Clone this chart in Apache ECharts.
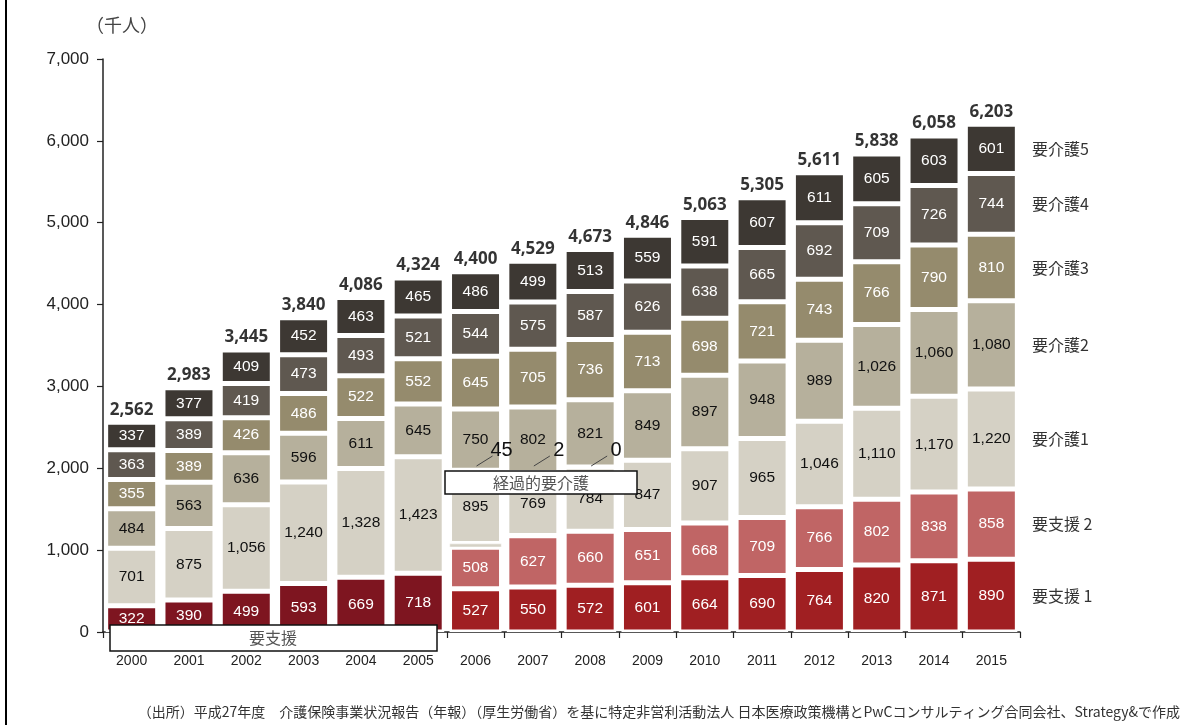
<!DOCTYPE html>
<html>
<head>
<meta charset="utf-8">
<script src="https://cdn.jsdelivr.net/npm/echarts@6/dist/echarts.min.js"></script>
<style>
html,body{margin:0;padding:0;background:#fff;}
#c{width:1191px;height:725px;}
</style>
</head>
<body>
<div id="c"></div>
<script>
const years = ['2000','2001','2002','2003','2004','2005','2006','2007','2008','2009','2010','2011','2012','2013','2014','2015'];
const shien  = [322,390,499,593,669,718,'-','-','-','-','-','-','-','-','-','-'];
const shien1 = ['-','-','-','-','-','-',527,550,572,601,664,690,764,820,871,890];
const shien2 = ['-','-','-','-','-','-',508,627,660,651,668,709,766,802,838,858];
const keika  = ['-','-','-','-','-','-',45,2,0,'-','-','-','-','-','-','-'];
const kaigo1 = [701,875,1056,1240,1328,1423,895,769,784,847,907,965,1046,1110,1170,1220];
const kaigo2 = [484,563,636,596,611,645,750,802,821,849,897,948,989,1026,1060,1080];
const kaigo3 = [355,389,426,486,522,552,645,705,736,713,698,721,743,766,790,810];
const kaigo4 = [363,389,419,473,493,521,544,575,587,626,638,665,692,709,726,744];
const kaigo5 = [337,377,409,452,463,465,486,499,513,559,591,607,611,605,603,601];
const totals = [2562,2983,3445,3840,4086,4324,4400,4529,4673,4846,5063,5305,5611,5838,6058,6203];
const yTicks = [0,1000,2000,3000,4000,5000,6000,7000];

const fmt = v => Number(v).toLocaleString('en-US');
const numFont = '"Liberation Sans", Arial, sans-serif';
const jpFont = '"Noto Sans CJK JP", sans-serif';

function seg(name, data, color, labelColor) {
  return {
    name: name, type: 'bar', stack: 'all', data: data, barWidth: 52,
    itemStyle: { color: color, borderColor: '#fff', borderWidth: 2.5 },
    label: { show: true, position: 'inside', color: labelColor, fontSize: 15.5, fontFamily: numFont,
      formatter: p => fmt(p.value) },
    emphasis: { disabled: true }
  };
}

const chart = echarts.init(document.getElementById('c'), null, { renderer: 'canvas' });
const keikaSeries = {
  name: '経過的要介護', type: 'bar', stack: 'all', data: keika, barWidth: 52,
  itemStyle: { color: '#D5D1C5', borderColor: '#fff', borderWidth: 0.5 },
  label: { show: true, position: 'top', color: '#111', fontSize: 20, fontFamily: numFont,
    formatter: p => fmt(p.value) },
  labelLayout: function (params) {
    const cx = params.rect.x + params.rect.width / 2;
    return { x: cx + 26, y: 450, align: 'center', verticalAlign: 'middle' };
  },
  emphasis: { disabled: true },
  z: 3
};

const option = {
  animation: false,
  backgroundColor: '#fff',
  grid: { left: 103, right: 171, top: 59, bottom: 93, containLabel: false },
  xAxis: {
    type: 'category', data: years,
    axisLine: { lineStyle: { color: '#222', width: 1.5 } },
    axisTick: { show: true, length: 6, lineStyle: { color: '#222', width: 1.2 } },
    axisLabel: { color: '#222', fontSize: 14, fontFamily: numFont, margin: 22 }
  },
  yAxis: {
    type: 'value', min: yTicks[0], max: yTicks[yTicks.length - 1], interval: 1000,
    axisLine: { show: true, lineStyle: { color: '#222', width: 1.5 } },
    axisTick: { show: true, length: 6, lineStyle: { color: '#222', width: 1.2 } },
    axisLabel: { color: '#222', fontSize: 17, fontFamily: numFont, margin: 14, formatter: v => fmt(v) },
    splitLine: { show: false }
  },
  series: [
    seg('要支援', shien, '#7E1520', '#fff'),
    seg('要支援 1', shien1, '#A01F22', '#fff'),
    seg('要支援 2', shien2, '#C06565', '#fff'),
    keikaSeries,
    seg('要介護1', kaigo1, '#D5D1C5', '#111'),
    seg('要介護2', kaigo2, '#B6B09C', '#111'),
    seg('要介護3', kaigo3, '#958B6D', '#fff'),
    seg('要介護4', kaigo4, '#5F5850', '#fff'),
    seg('要介護5', kaigo5, '#3D3833', '#fff'),
    {
      name: 'total', type: 'scatter', data: totals, symbolSize: 0,
      label: { show: true, position: 'top', distance: 4, color: '#000', fontSize: 17, fontWeight: 'bold',
        fontFamily: '"Open Sans", "Liberation Sans", sans-serif', formatter: p => fmt(p.value) },
      emphasis: { disabled: true }, z: 5
    }
  ]
};
chart.setOption(option);

// right-side series labels aligned with the 2015 segments
const last = years.length - 1;
const rightSeries = [
  ['要支援 1', shien1], ['要支援 2', shien2], ['要介護1', kaigo1], ['要介護2', kaigo2],
  ['要介護3', kaigo3], ['要介護4', kaigo4], ['要介護5', kaigo5]
];
let base = 0;
const g = [];
rightSeries.forEach(([name, arr]) => {
  const v = arr[last];
  const mid = base + v / 2;
  base += v;
  const pt = chart.convertToPixel({ gridIndex: 0 }, [last, mid]);
  g.push({ type: 'text', x: 1032, y: pt[1], z: 100,
    style: { text: name, fill: '#333', font: '16px ' + jpFont, textVerticalAlign: 'middle' } });
});
// short guide lines for 経過的要介護 labels
keika.forEach((v, i) => {
  if (v === '-') return;
  const cx = chart.convertToPixel({ gridIndex: 0 }, [i, 0])[0];
  g.push({ type: 'line', shape: { x1: cx + 1, y1: 466, x2: cx + 17, y2: 456 }, z: 99,
    style: { stroke: '#444', lineWidth: 1 } });
});
// boxes
g.push({ type: 'rect', shape: { x: 110, y: 625, width: 327, height: 26 }, z: 100,
  style: { fill: '#fff', stroke: '#111', lineWidth: 1.5 } });
g.push({ type: 'text', x: 273, y: 638, z: 101,
  style: { text: '要支援', fill: '#555', font: '16px ' + jpFont, textAlign: 'center', textVerticalAlign: 'middle' } });
g.push({ type: 'rect', shape: { x: 445, y: 471, width: 192, height: 23 }, z: 100,
  style: { fill: '#fff', stroke: '#111', lineWidth: 1.5 } });
g.push({ type: 'text', x: 541, y: 483, z: 101,
  style: { text: '経過的要介護', fill: '#555', font: '16px ' + jpFont, textAlign: 'center', textVerticalAlign: 'middle' } });
// unit
g.push({ type: 'text', x: 86, y: 25, z: 100,
  style: { text: '（千人）', fill: '#444', font: '18px ' + jpFont, textVerticalAlign: 'middle' } });
// left frame line
g.push({ type: 'line', shape: { x1: 6, y1: 0, x2: 6, y2: 725 }, z: 100,
  style: { stroke: '#000', lineWidth: 2 } });
// source
g.push({ type: 'text', x: 1180, y: 712, z: 100,
  style: { text: '（出所）平成27年度　介護保険事業状況報告（年報）（厚生労働省）を基に特定非営利活動法人 日本医療政策機構とPwCコンサルティング合同会社、Strategy&で作成',
    fill: '#333', font: '14px ' + jpFont, textAlign: 'right', textVerticalAlign: 'middle' } });
chart.setOption({ graphic: { elements: g } });
</script>
</body>
</html>
